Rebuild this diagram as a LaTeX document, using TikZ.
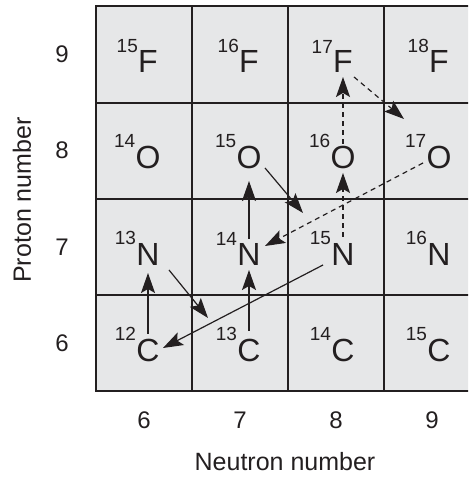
\documentclass[tikz,border=0pt]{standalone}
\usepackage{fontspec}
\setmainfont{Liberation Sans}
\usetikzlibrary{arrows.meta,calc}
\definecolor{cellgrey}{HTML}{E6E7E8}
\definecolor{ink}{HTML}{231F20}
\begin{document}
\begin{tikzpicture}[x=1pt,y=-1pt,
  nuc/.style={inner sep=0pt, anchor=base, text=ink, font=\fontsize{32}{32}\selectfont},
  iso/.style={inner sep=0pt, text=ink, anchor=south east, yshift=-2.5pt, font=\fontsize{19}{19}\selectfont},
  axnum/.style={text=ink, font=\fontsize{24}{24}\selectfont},
  axtitle/.style={text=ink, font=\fontsize{25}{25}\selectfont},
  gridline/.style={draw=ink, line width=1.8pt},
  decay/.style={draw=ink, line width=1.2pt, -{Stealth[length=20pt,width=14pt,inset=4pt]}},
  decaydash/.style={decay, dash pattern=on 5pt off 4pt}]
\clip (0,0) rectangle (468,478);
% grid
\fill[cellgrey] (96,6) rectangle (480,391);
\draw[gridline] (96,6) rectangle (480,391);
\foreach \y in {103,199,295} \draw[gridline] (96,\y) -- (480,\y);
\foreach \x in {192,288,384} \draw[gridline] (\x,6) -- (\x,391);
% nuclei
\node[nuc, label={[iso]north west:15}] (F15) at (148,73) {F};
\node[nuc, label={[iso]north west:16}] (F16) at (249,73) {F};
\node[nuc, label={[iso]north west:17}] (F17) at (343,73) {F};
\node[nuc, label={[iso]north west:18}] (F18) at (439,73) {F};
\node[nuc, label={[iso]north west:14}] (O14) at (148,168) {O};
\node[nuc, label={[iso]north west:15}] (O15) at (249,168) {O};
\node[nuc, label={[iso]north west:16}] (O16) at (343,168) {O};
\node[nuc, label={[iso]north west:17}] (O17) at (439,168) {O};
\node[nuc, label={[iso]north west:13}] (N13) at (148,265) {N};
\node[nuc, label={[iso]north west:14}] (N14) at (249,265) {N};
\node[nuc, label={[iso]north west:15}] (N15) at (343,265) {N};
\node[nuc, label={[iso]north west:16}] (N16) at (439,265) {N};
\node[nuc, label={[iso]north west:12}] (C12) at (148,361) {C};
\node[nuc, label={[iso]north west:13}] (C13) at (249,361) {C};
\node[nuc, label={[iso]north west:14}] (C14) at (343,361) {C};
\node[nuc, label={[iso]north west:15}] (C15) at (439,361) {C};
% axis numbers
\node[axnum] (p9) at (62,54) {9};
\node[axnum] (p8) at (62,150.5) {8};
\node[axnum] (p7) at (62,247) {7};
\node[axnum] (p6) at (62,343) {6};
\node[axnum] (n6) at (144,420) {6};
\node[axnum] (n7) at (240,420) {7};
\node[axnum] (n8) at (336,420) {8};
\node[axnum] (n9) at (432,420) {9};
\node[axtitle, rotate=90] (ytitle) at (22,200) {Proton number};
\node[axtitle] (xtitle) at (285,462) {Neutron number};
% CNO cycle arrows
\draw[decay] ($(C12.center)+(0,-16)$) -- ($(N13.center)+(0,19)$);
\draw[decay] ($(N13.center)+(21,16)$) -- ($(C13.center)+(-41,-32)$);
\draw[decay] ($(C13.center)+(0,-19)$) -- ($(N14.center)+(0,16)$);
\draw[decay] ($(N14.center)+(0,-15)$) -- ($(O15.center)+(0,24)$);
\draw[decay] ($(O15.center)+(16,11)$) -- ($(N15.center)+(-40,-41)$);
\draw[decay] ($(N15.center)+(-20,11)$) -- ($(C12.center)+(15,-2)$);
\draw[decaydash] ($(N15.center)+(0,-17)$) -- ($(O16.center)+(0,16)$);
\draw[decaydash] ($(O16.center)+(0,-13)$) -- ($(F17.center)+(0,15)$);
\draw[decaydash] ($(F17.center)+(11,15)$) -- ($(O17.center)+(-35,-38)$);
\draw[decaydash] ($(O17.center)+(-16,6)$) -- ($(N14.center)+(16,-8)$);
\end{tikzpicture}
\end{document}
